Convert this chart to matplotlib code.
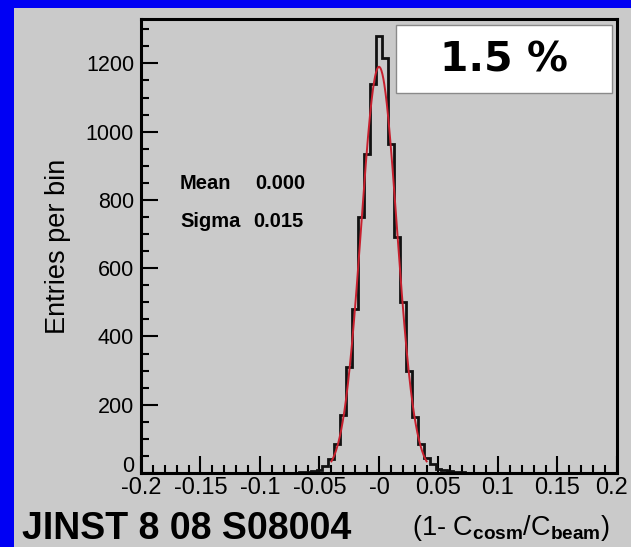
import matplotlib
matplotlib.use('Agg')
import matplotlib.pyplot as plt
from matplotlib.patches import Rectangle
from matplotlib.transforms import ScaledTranslation
import numpy as np

# histogram of (1 - C_cosm/C_beam), bin width 0.005, bins centred on k*0.005
bin_width = 0.005
first_center = -0.07
counts = [1, 2, 3, 6, 10, 20, 40, 85, 170, 310, 480, 750, 935, 1140,
          1280, 1215, 965, 690, 500, 300, 165, 85, 45, 25, 12, 10, 5, 3, 2]

# gaussian fit parameters
fit_amp = 1190
fit_mean = 0.000
fit_sigma = 0.015
fit_range = (-0.04, 0.04)

xticks = [-0.2, -0.15, -0.1, -0.05, 0.0, 0.05, 0.1, 0.15, 0.2]
xticklabels = ['-0.2', '-0.15', '-0.1', '-0.05', '-0', '0.05', '0.1', '0.15', '0.2']
yticks = [0, 200, 400, 600, 800, 1000, 1200]

GRAY = '#cacaca'
BLUE = '#0000f4'

plt.rcParams['font.family'] = ['Liberation Sans', 'DejaVu Sans']
plt.rcParams['mathtext.fontset'] = 'custom'
plt.rcParams['mathtext.rm'] = 'Liberation Sans'
plt.rcParams['mathtext.bf'] = 'Liberation Sans:bold'

fig = plt.figure(figsize=(6.31, 5.47), dpi=100, facecolor=GRAY)
W, H = 631, 547

# blue frame on top and left
fig.patches.append(Rectangle((0, 1 - 8 / H), 1, 8 / H, transform=fig.transFigure,
                             facecolor=BLUE, edgecolor='none', zorder=0))
fig.patches.append(Rectangle((0, 0), 14 / W, 1, transform=fig.transFigure,
                             facecolor=BLUE, edgecolor='none', zorder=0))

ax = fig.add_axes([141 / W, 1 - 473 / H, (617 - 141) / W, (473 - 19) / H])
ax.set_facecolor(GRAY)

edges = first_center - bin_width / 2 + bin_width * np.arange(len(counts) + 1)
ax.stairs(counts, edges, color='#111111', lw=2.0, baseline=0, zorder=2)

xf = np.linspace(fit_range[0], fit_range[1], 300)
yf = fit_amp * np.exp(-0.5 * ((xf - fit_mean) / fit_sigma) ** 2)
ax.plot(xf, yf, color='#c8202e', lw=1.4, zorder=3)

ax.set_xlim(-0.2, 0.2)
ax.set_ylim(0, 1330)
ax.set_xticks(xticks, xticklabels)
ax.set_yticks(yticks)
ax.set_xticks(np.arange(-0.2, 0.2001, 0.01), minor=True)
ax.set_yticks(np.arange(0, 1330, 50), minor=True)
ax.tick_params(which='both', direction='in', top=False, right=False, width=1.5)
ax.tick_params(axis='x', labelsize=17, pad=3)
ax.tick_params(axis='y', labelsize=15.5, pad=5)
ax.tick_params(which='major', length=12)
ax.tick_params(which='minor', length=6)
for s in ax.spines.values():
    s.set_linewidth(2.2)

# nudge the corner labels like the original: "0" a bit up, last "0.2" a bit left
ylab0 = ax.get_yticklabels()[0]
ylab0.set_transform(ylab0.get_transform() + ScaledTranslation(0, 9 / 100, fig.dpi_scale_trans))
xlast = ax.get_xticklabels()[-1]
xlast.set_transform(xlast.get_transform() + ScaledTranslation(-5 / 100, 0, fig.dpi_scale_trans))

ax.set_ylabel('Entries per bin', fontsize=19.5, labelpad=11)

stat_kw = dict(transform=ax.transAxes, fontsize=14.5, fontweight='bold', va='center')
ax.text(0.082, 0.637, 'Mean', **stat_kw)
ax.text(0.239, 0.637, '0.000', **stat_kw)
ax.text(0.082, 0.553, 'Sigma', **stat_kw)
ax.text(0.235, 0.553, '0.015', **stat_kw)

# boxed resolution label
fig.patches.append(Rectangle((396 / W, 1 - 93 / H), 216 / W, 68 / H,
                             transform=fig.transFigure, facecolor='white',
                             edgecolor='#8a8a8a', lw=1, zorder=5))
fig.text(504 / W, 1 - 60 / H, '1.5 %', fontsize=29.5, fontweight='bold',
         family='DejaVu Sans', ha='center', va='center', zorder=6)

fig.text(511 / W, 1 - 528 / H, r'(1- C$_{\mathbf{cosm}}$/C$_{\mathbf{beam}}$)',
         fontsize=19.5, ha='center', va='center')
fig.text(22 / W, 1 - 529 / H, 'JINST 8 08 S08004', fontsize=27,
         fontweight='bold', ha='left', va='center')

fig.savefig('out.png', dpi=100, facecolor=GRAY)
